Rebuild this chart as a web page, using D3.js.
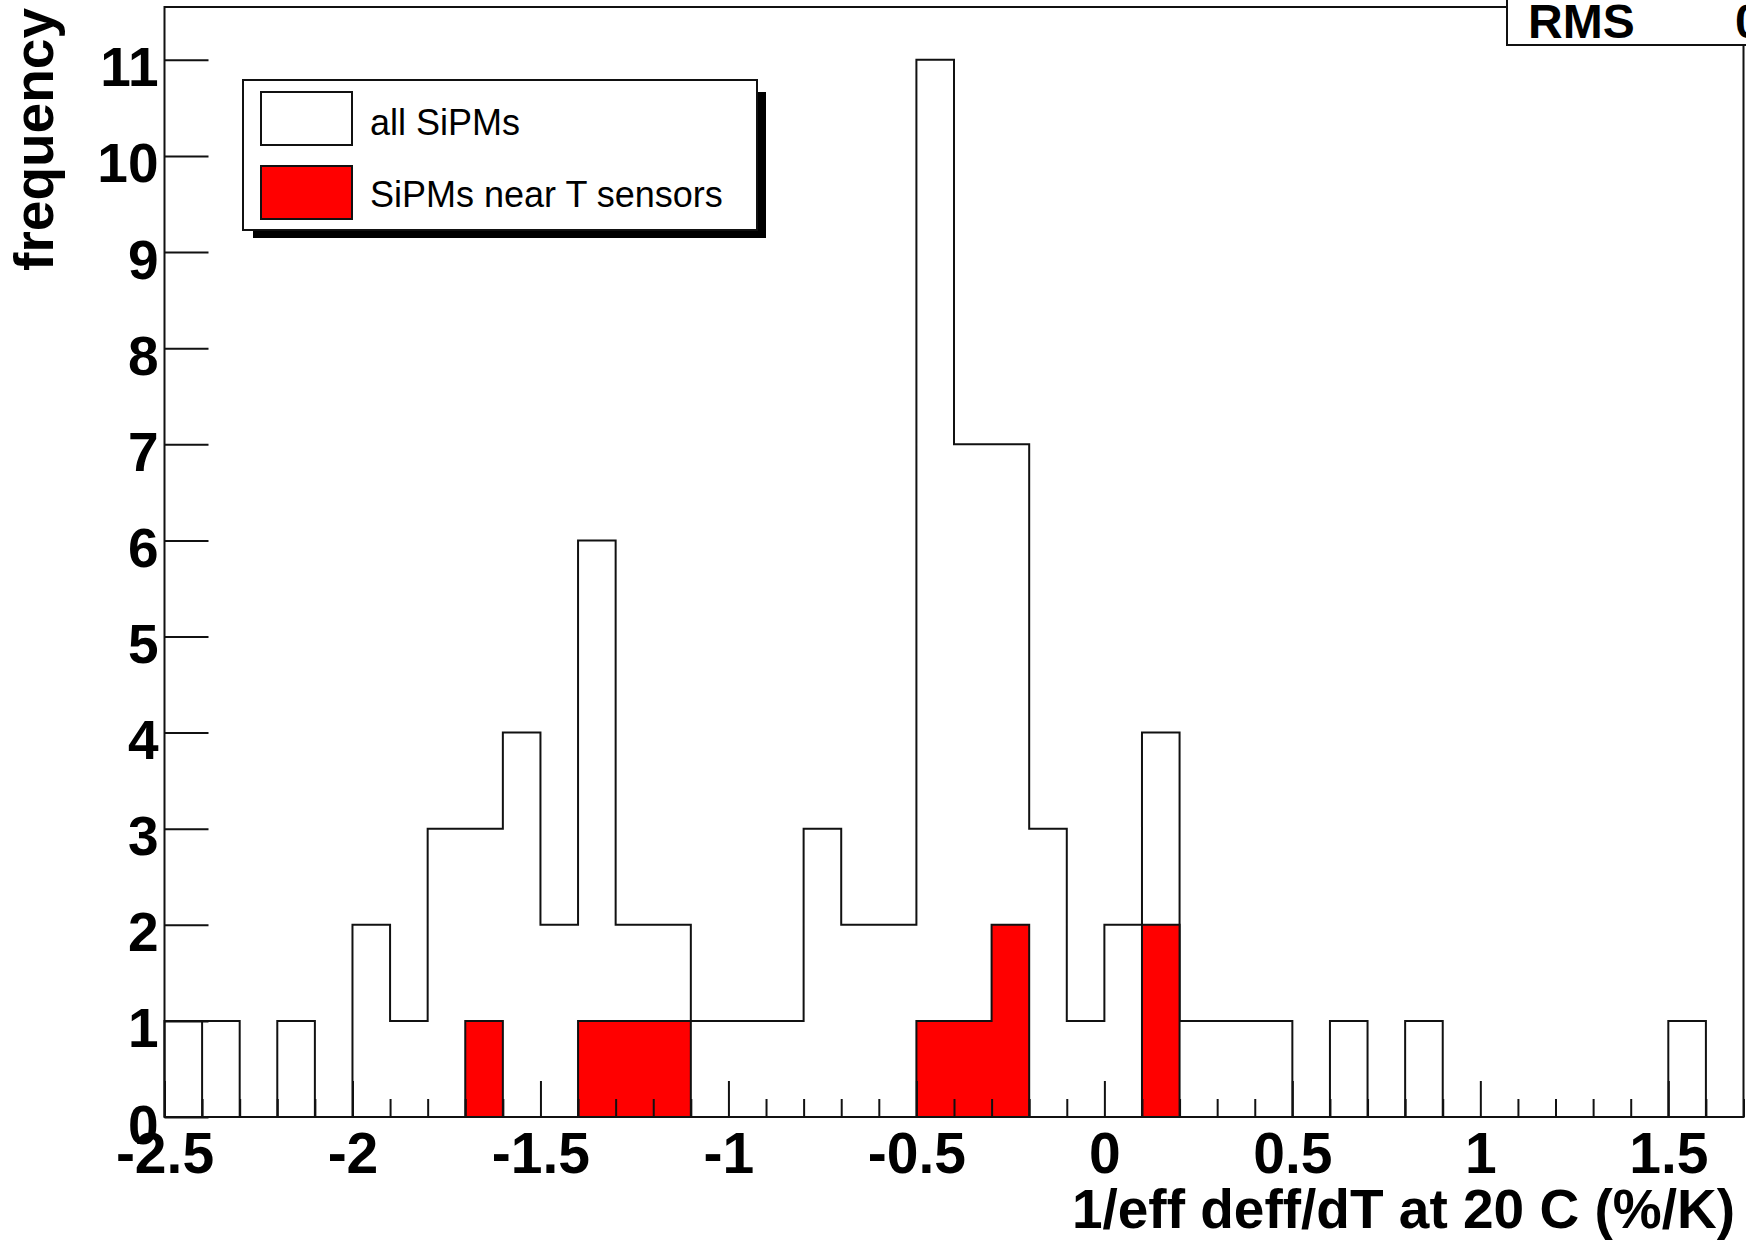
<!DOCTYPE html>
<html>
<head>
<meta charset="utf-8">
<script src="https://cdn.jsdelivr.net/npm/d3@7"></script>
<style>
  html, body { margin: 0; padding: 0; background: #fff; }
  svg { display: block; font-family: "Liberation Sans", Arial, Helvetica, sans-serif; }
</style>
</head>
<body>
<svg id="chart"></svg>
<script>
const width = 1746;
const height = 1241;

// histogram binning (0.1 wide bins from -2.5 to 1.7)
const binStart = -2.5;
const binWidth = 0.1;
const allCounts = [1, 1, 0, 1, 0, 2, 1, 3, 3, 4, 2, 6, 2, 2, 1, 1, 1, 3, 2, 2, 11, 7, 7, 3, 1,
                   2, 4, 1, 1, 1, 0, 1, 0, 1, 0, 0, 0, 0, 0, 0, 1, 0];
const nearCounts = [0, 0, 0, 0, 0, 0, 0, 0, 1, 0, 0, 1, 1, 1, 0, 0, 0, 0, 0, 0, 1, 1, 2, 0, 0,
                    0, 2, 0, 0, 0, 0, 0, 0, 0, 0, 0, 0, 0, 0, 0, 0, 0];
// the outline of "all SiPMs" drops to zero here as well
const splitEdges = [-2.4];

const legendLabels = ["all SiPMs", "SiPMs near T sensors"];
const xMajorTicks = [-2.5, -2, -1.5, -1, -0.5, 0, 0.5, 1, 1.5];
const yTicks = d3.range(0, 12);
const xTitle = "1/eff deff/dT at 20 C (%/K)";
const yTitle = "frequency";

const svg = d3.select("#chart")
  .attr("width", width)
  .attr("height", height);

const x = d3.scaleLinear().domain([-2.5, 1.7]).range([164.5, 1743.5]);
const y = d3.scaleLinear().domain([0, 11.55]).range([1117, 7]);

const edge = i => binStart + i * binWidth;
const line = "#111";

// step outline for a histogram
function stepPath(counts) {
  const p = d3.path();
  p.moveTo(x(edge(0)), y(0));
  counts.forEach((c, i) => {
    p.lineTo(x(edge(i)), y(c));
    p.lineTo(x(edge(i + 1)), y(c));
  });
  p.lineTo(x(edge(counts.length)), y(0));
  return p.toString();
}

// all SiPMs outline
svg.append("path")
  .attr("d", stepPath(allCounts))
  .attr("fill", "none")
  .attr("stroke", line)
  .attr("stroke-width", 2);

svg.selectAll("line.split")
  .data(splitEdges)
  .join("line")
  .attr("class", "split")
  .attr("x1", d => x(d)).attr("x2", d => x(d))
  .attr("y1", d => y(allCounts[Math.round((d - binStart) / binWidth)]))
  .attr("y2", y(0))
  .attr("stroke", line)
  .attr("stroke-width", 2);

// red histogram, drawn only over runs of non-empty bins
const runs = [];
nearCounts.forEach((c, i) => {
  if (c > 0) {
    if (runs.length && runs[runs.length - 1].end === i) {
      runs[runs.length - 1].counts.push(c);
      runs[runs.length - 1].end = i + 1;
    } else {
      runs.push({ start: i, end: i + 1, counts: [c] });
    }
  }
});
svg.selectAll("path.near")
  .data(runs)
  .join("path")
  .attr("class", "near")
  .attr("d", r => {
    const p = d3.path();
    p.moveTo(x(edge(r.start)), y(0));
    r.counts.forEach((c, k) => {
      p.lineTo(x(edge(r.start + k)), y(c));
      p.lineTo(x(edge(r.start + k + 1)), y(c));
    });
    p.lineTo(x(edge(r.end)), y(0));
    p.closePath();
    return p.toString();
  })
  .attr("fill", "#ff0000")
  .attr("stroke", line)
  .attr("stroke-width", 2);

// axes
const yAxis = d3.axisLeft(y).tickValues(yTicks).tickSize(-44).tickSizeOuter(0).tickPadding(6);
const gy = svg.append("g").attr("transform", `translate(${x(-2.5)},0)`).call(yAxis);
gy.select(".domain").remove();
gy.selectAll(".tick line").attr("stroke", line).attr("stroke-width", 2);
gy.selectAll(".tick text")
  .attr("dy", 26)
  .attr("fill", "#000")
  .style("font-size", "55px")
  .style("font-weight", "bold")
  .style("font-family", "'Liberation Sans', Arial, sans-serif");

const xMinorTicks = d3.range(0, 43).map(edge).filter(v => !xMajorTicks.some(m => Math.abs(m - v) < 1e-6));
const gxm = svg.append("g").attr("transform", `translate(0,${y(0)})`)
  .call(d3.axisBottom(x).tickValues(xMinorTicks).tickSize(-18).tickSizeOuter(0).tickFormat(""));
gxm.select(".domain").remove();
gxm.selectAll(".tick line").attr("stroke", line).attr("stroke-width", 2);

const gx = svg.append("g").attr("transform", `translate(0,${y(0)})`)
  .call(d3.axisBottom(x).tickValues(xMajorTicks).tickSize(-36).tickSizeOuter(0).tickFormat(d => String(d)));
gx.select(".domain").remove();
gx.selectAll(".tick line").attr("stroke", line).attr("stroke-width", 2);
gx.selectAll(".tick text")
  .attr("y", 56)
  .attr("dy", 0)
  .attr("fill", "#000")
  .style("font-size", "57px")
  .style("font-weight", "bold")
  .style("font-family", "'Liberation Sans', Arial, sans-serif");

// frame
const [x0, x1] = x.range();
const [yb, yt] = y.range();
svg.append("path")
  .attr("d", `M${x0},${yb}H${x1}V${yt}H${x0}Z`)
  .attr("fill", "none")
  .attr("stroke", line)
  .attr("stroke-width", 2);

// axis titles
svg.append("text")
  .attr("x", 1735)
  .attr("y", 1228)
  .attr("text-anchor", "end")
  .style("font-size", "55px")
  .style("font-weight", "bold")
  .text(xTitle);

svg.append("text")
  .attr("transform", "translate(53,8) rotate(-90)")
  .attr("text-anchor", "end")
  .style("font-size", "55px")
  .style("font-weight", "bold")
  .text(yTitle);

// legend
const legend = svg.append("g");
legend.append("rect")
  .attr("x", 253).attr("y", 92).attr("width", 513).attr("height", 146)
  .attr("fill", "#000");
legend.append("rect")
  .attr("x", 243).attr("y", 80).attr("width", 514).attr("height", 150)
  .attr("fill", "#fff").attr("stroke", line).attr("stroke-width", 2);
const legendFills = ["#fff", "#ff0000"];
legend.selectAll("rect.swatch")
  .data(legendLabels)
  .join("rect")
  .attr("class", "swatch")
  .attr("x", 261)
  .attr("y", (d, i) => 92 + i * 74)
  .attr("width", 91)
  .attr("height", 53)
  .attr("fill", (d, i) => legendFills[i])
  .attr("stroke", line)
  .attr("stroke-width", 2);
legend.selectAll("text")
  .data(legendLabels)
  .join("text")
  .attr("x", 370)
  .attr("y", (d, i) => 135 + i * 72)
  .style("font-size", "36px")
  .text(d => d);

// stats box, mostly cut off at the right edge
const total = d3.sum(allCounts);
const mean = d3.sum(allCounts, (c, i) => c * (edge(i) + binWidth / 2)) / total;
const rms = Math.sqrt(d3.sum(allCounts, (c, i) => c * (edge(i) + binWidth / 2 - mean) ** 2) / total);
const stats = svg.append("g");
stats.append("rect")
  .attr("x", 1507).attr("y", -10).attr("width", 300).attr("height", 55)
  .attr("fill", "#fff").attr("stroke", line).attr("stroke-width", 2);
stats.append("text")
  .attr("x", 1528).attr("y", 38)
  .style("font-size", "48px").style("font-weight", "bold")
  .text("RMS");
stats.append("text")
  .attr("x", 1735).attr("y", 38)
  .style("font-size", "48px").style("font-weight", "bold")
  .text(rms.toFixed(4));
</script>
</body>
</html>
